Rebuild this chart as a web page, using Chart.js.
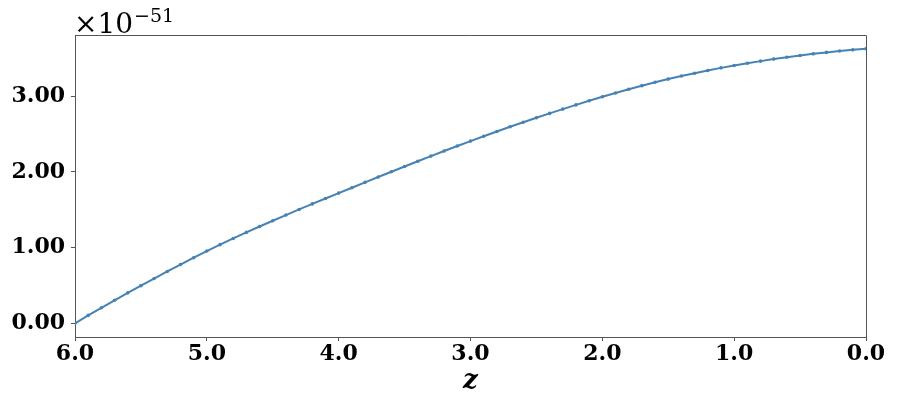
<!DOCTYPE html>
<html>
<head>
<meta charset="utf-8">
<script src="https://cdn.jsdelivr.net/npm/chart.js@4.4.1/dist/chart.umd.min.js"></script>
<style>
  html, body { margin: 0; padding: 0; background: #fff; }
  #wrap { width: 897px; height: 414px; }
</style>
</head>
<body>
<div id="wrap"><canvas id="chart" width="897" height="414"></canvas></div>
<script>
// redshift samples
const zValues = [
  6.0, 5.9, 5.8, 5.7, 5.6, 5.5, 5.4, 5.3, 5.2, 5.1,
  5.0, 4.9, 4.8, 4.7, 4.6, 4.5, 4.4, 4.3, 4.2, 4.1,
  4.0, 3.9, 3.8, 3.7, 3.6, 3.5, 3.4, 3.3, 3.2, 3.1,
  3.0, 2.9, 2.8, 2.7, 2.6, 2.5, 2.4, 2.3, 2.2, 2.1,
  2.0, 1.9, 1.8, 1.7, 1.6, 1.5, 1.4, 1.3, 1.2, 1.1,
  1.0, 0.9, 0.8, 0.7, 0.6, 0.5, 0.4, 0.3, 0.2, 0.1,
  0.0
];

// values in units of 1e-51
const curveValues = [
  0.000, 0.104, 0.205, 0.304, 0.401, 0.497, 0.591, 0.684, 0.776, 0.866,
  0.954, 1.038, 1.120, 1.200, 1.278, 1.354, 1.429, 1.503, 1.576, 1.648,
  1.719, 1.790, 1.861, 1.931, 2.001, 2.070, 2.139, 2.207, 2.274, 2.340,
  2.405, 2.469, 2.532, 2.594, 2.654, 2.713, 2.771, 2.828, 2.883, 2.937,
  2.990, 3.041, 3.090, 3.137, 3.182, 3.224, 3.264, 3.302, 3.338, 3.372,
  3.403, 3.433, 3.461, 3.488, 3.513, 3.536, 3.557, 3.576, 3.594, 3.610,
  3.625
];

const xTicks = [6, 5, 4, 3, 2, 1, 0];
const yTicks = [0, 1, 2, 3];

const points = zValues.map((z, i) => ({ x: z, y: curveValues[i] }));

const axisColor = '#555555';
const lineColor = '#4682b4';

// frame on top/right + the offset text
const framePlugin = {
  id: 'frame',
  afterDraw(chart) {
    const ctx = chart.ctx;
    const a = chart.chartArea;
    ctx.save();
    ctx.strokeStyle = axisColor;
    ctx.lineWidth = 1;
    ctx.beginPath();
    ctx.moveTo(a.left, a.top + 0.5);
    ctx.lineTo(a.right + 0.5, a.top + 0.5);
    ctx.lineTo(a.right + 0.5, a.bottom);
    ctx.stroke();

    ctx.fillStyle = '#000';
    ctx.textBaseline = 'alphabetic';
    ctx.textAlign = 'left';
    ctx.font = '28px "DejaVu Serif"';
    const base = '\u00d710';
    ctx.fillText(base, a.left - 1, 33);
    const w = ctx.measureText(base).width;
    ctx.font = '19px "DejaVu Serif"';
    ctx.fillText('\u221251', a.left - 1 + w + 1, 22);
    ctx.restore();
  }
};

new Chart(document.getElementById('chart'), {
  type: 'line',
  data: {
    datasets: [{
      data: points,
      borderColor: lineColor,
      backgroundColor: lineColor,
      borderWidth: 2,
      pointRadius: 1.8,
      pointHoverRadius: 1.8,
      pointBorderWidth: 0,
      tension: 0,
      fill: false
    }]
  },
  options: {
    responsive: false,
    animation: false,
    layout: { padding: { left: 0, top: 35, right: 31, bottom: 0 } },
    plugins: {
      legend: { display: false },
      tooltip: { enabled: false }
    },
    scales: {
      x: {
        type: 'linear',
        reverse: true,
        min: 0,
        max: 6,
        afterFit: s => { s.height = 77; },
        afterBuildTicks: s => { s.ticks = xTicks.map(v => ({ value: v })); },
        grid: { drawOnChartArea: false, drawTicks: true, tickLength: 4, color: axisColor },
        border: { color: axisColor, width: 1 },
        ticks: {
          color: '#000',
          padding: 0,
          maxRotation: 0,
          font: { family: 'DejaVu Serif', weight: 'bold', size: 22 },
          callback: v => v.toFixed(1)
        },
        title: {
          display: true,
          text: 'z',
          color: '#000',
          padding: { top: 0, bottom: 17 },
          font: { family: 'DejaVu Serif', weight: 'bold', style: 'italic', size: 26 }
        }
      },
      y: {
        type: 'linear',
        min: -0.181,
        max: 3.806,
        afterFit: s => { s.width = 75; },
        afterBuildTicks: s => { s.ticks = yTicks.map(v => ({ value: v })); },
        grid: { drawOnChartArea: false, drawTicks: true, tickLength: 4, color: axisColor },
        border: { color: axisColor, width: 1 },
        ticks: {
          color: '#000',
          padding: 6,
          font: { family: 'DejaVu Serif', weight: 'bold', size: 22 },
          callback: v => v.toFixed(2)
        }
      }
    }
  },
  plugins: [framePlugin]
});
</script>
</body>
</html>
